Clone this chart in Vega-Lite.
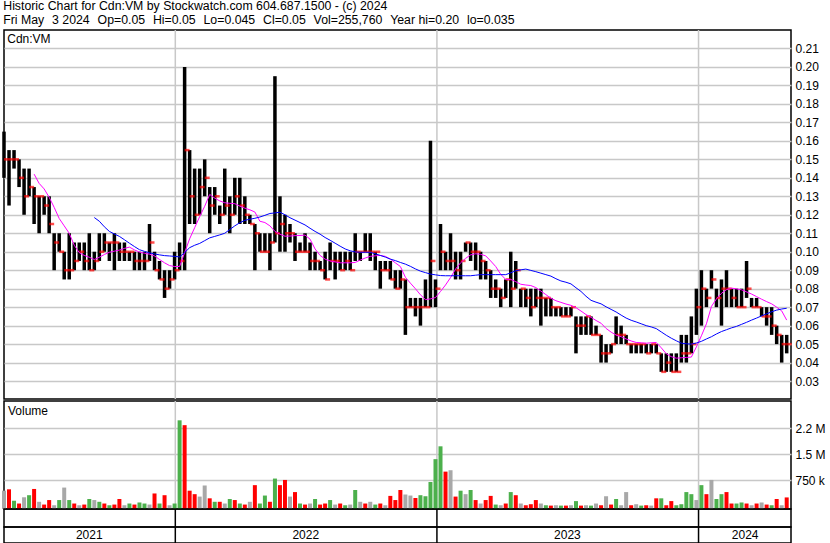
{
"$schema": "https://vega.github.io/schema/vega-lite/v6.json",
"background": "white",
"padding": {"left": 1, "top": 0, "right": 0, "bottom": 0},
"title": {"text": ["Historic Chart for Cdn:VM by Stockwatch.com 604.687.1500 - (c) 2024", "Fri May \u00a0\u200a3 2024 \u00a0\u200aOp=0.05 \u00a0\u200aHi=0.05 \u00a0\u200aLo=0.045 \u00a0\u200aCl=0.05 \u00a0\u200aVol=255,760 \u00a0\u200aYear hi=0.20 \u00a0\u200alo=0.035"], "anchor": "start", "font": "Liberation Sans", "fontSize": 12.3, "fontWeight": "normal", "lineHeight": 14, "offset": 2, "dx": 2, "color": "black"},
"config": {"view": {"stroke": "black", "strokeWidth": 1.5}, "axis": {"labelOverlap": false}},
"datasets": {
"px": [
{"d":"2021-05-07","h":0.165,"l":0.14,"c":0.15,"v":450000,"t":"flat"},
{"d":"2021-05-14","h":0.155,"l":0.125,"c":0.15,"v":490000,"t":"down"},
{"d":"2021-05-21","h":0.155,"l":0.145,"c":0.15,"v":160000,"t":"up"},
{"d":"2021-05-28","h":0.15,"l":0.135,"c":0.14,"v":80000,"t":"down"},
{"d":"2021-06-04","h":0.145,"l":0.12,"c":0.13,"v":260000,"t":"flat"},
{"d":"2021-06-11","h":0.145,"l":0.13,"c":0.135,"v":320000,"t":"up"},
{"d":"2021-06-18","h":0.135,"l":0.115,"c":0.13,"v":500000,"t":"down","m1":0.142},
{"d":"2021-06-25","h":0.13,"l":0.11,"c":0.13,"v":130000,"t":"flat","m1":0.137},
{"d":"2021-07-02","h":0.13,"l":0.12,"c":0.125,"v":50000,"t":"down","m1":0.134},
{"d":"2021-07-09","h":0.13,"l":0.11,"c":0.115,"v":180000,"t":"down","m1":0.1295},
{"d":"2021-07-16","h":0.11,"l":0.09,"c":0.105,"v":30000,"t":"flat","m1":0.124},
{"d":"2021-07-23","h":0.11,"l":0.1,"c":0.1,"v":180000,"t":"up","m1":0.118},
{"d":"2021-07-30","h":0.1,"l":0.085,"c":0.09,"v":540000,"t":"flat","m1":0.114},
{"d":"2021-08-06","h":0.11,"l":0.085,"c":0.09,"v":180000,"t":"up","m1":0.11},
{"d":"2021-08-13","h":0.105,"l":0.09,"c":0.095,"v":80000,"t":"down","m1":0.1035},
{"d":"2021-08-20","h":0.105,"l":0.095,"c":0.1,"v":30000,"t":"flat","m1":0.0995},
{"d":"2021-08-27","h":0.105,"l":0.09,"c":0.095,"v":50000,"t":"down","m1":0.098},
{"d":"2021-09-03","h":0.11,"l":0.09,"c":0.09,"v":210000,"t":"up","m1":0.097},
{"d":"2021-09-10","h":0.1,"l":0.09,"c":0.095,"v":180000,"t":"flat","m1":0.0958,"m2":0.1185},
{"d":"2021-09-17","h":0.11,"l":0.095,"c":0.1,"v":130000,"t":"up","m1":0.097,"m2":0.1165},
{"d":"2021-09-24","h":0.11,"l":0.1,"c":0.105,"v":80000,"t":"down","m1":0.0985,"m2":0.1135},
{"d":"2021-10-01","h":0.105,"l":0.095,"c":0.105,"v":30000,"t":"up","m1":0.0997,"m2":0.111},
{"d":"2021-10-08","h":0.11,"l":0.09,"c":0.105,"v":50000,"t":"down","m1":0.1003,"m2":0.1096},
{"d":"2021-10-15","h":0.105,"l":0.095,"c":0.1,"v":210000,"t":"down","m1":0.1009,"m2":0.1083},
{"d":"2021-10-22","h":0.105,"l":0.095,"c":0.1,"v":30000,"t":"flat","m1":0.1018,"m2":0.1065},
{"d":"2021-10-29","h":0.1,"l":0.095,"c":0.1,"v":80000,"t":"up","m1":0.1025,"m2":0.1046},
{"d":"2021-11-05","h":0.1,"l":0.09,"c":0.095,"v":50000,"t":"down","m1":0.101,"m2":0.1028},
{"d":"2021-11-12","h":0.1,"l":0.09,"c":0.095,"v":110000,"t":"up","m1":0.0998,"m2":0.1011},
{"d":"2021-11-19","h":0.1,"l":0.09,"c":0.095,"v":80000,"t":"up","m1":0.0992,"m2":0.1002},
{"d":"2021-11-26","h":0.115,"l":0.095,"c":0.105,"v":50000,"t":"flat","m1":0.0987,"m2":0.0994},
{"d":"2021-12-03","h":0.1,"l":0.09,"c":0.09,"v":370000,"t":"down","m1":0.0977,"m2":0.0988},
{"d":"2021-12-10","h":0.095,"l":0.085,"c":0.085,"v":80000,"t":"up","m1":0.0958,"m2":0.0983},
{"d":"2021-12-17","h":0.09,"l":0.075,"c":0.08,"v":320000,"t":"down","m1":0.094,"m2":0.0979},
{"d":"2021-12-24","h":0.09,"l":0.08,"c":0.085,"v":30000,"t":"flat","m1":0.0925,"m2":0.0977},
{"d":"2021-12-31","h":0.1,"l":0.085,"c":0.09,"v":80000,"t":"up","m1":0.092,"m2":0.0975},
{"d":"2022-01-07","h":0.105,"l":0.09,"c":0.095,"v":2480000,"t":"up","m1":0.092,"m2":0.0972},
{"d":"2022-01-14","h":0.2,"l":0.09,"c":0.155,"v":2340000,"t":"down","m1":0.0995,"m2":0.0995},
{"d":"2022-01-21","h":0.155,"l":0.115,"c":0.13,"v":450000,"t":"down","m1":0.107,"m2":0.1022},
{"d":"2022-01-28","h":0.145,"l":0.115,"c":0.12,"v":350000,"t":"down","m1":0.113,"m2":0.1035},
{"d":"2022-02-04","h":0.145,"l":0.12,"c":0.135,"v":280000,"t":"flat","m1":0.119,"m2":0.1045},
{"d":"2022-02-11","h":0.15,"l":0.13,"c":0.14,"v":600000,"t":"flat","m1":0.1246,"m2":0.106},
{"d":"2022-02-18","h":0.135,"l":0.11,"c":0.125,"v":230000,"t":"down","m1":0.131,"m2":0.1075},
{"d":"2022-02-25","h":0.135,"l":0.12,"c":0.13,"v":130000,"t":"up","m1":0.129,"m2":0.1083},
{"d":"2022-03-04","h":0.125,"l":0.115,"c":0.12,"v":130000,"t":"down","m1":0.1275,"m2":0.1091},
{"d":"2022-03-11","h":0.145,"l":0.12,"c":0.125,"v":80000,"t":"flat","m1":0.1265,"m2":0.11},
{"d":"2022-03-18","h":0.13,"l":0.11,"c":0.12,"v":210000,"t":"up","m1":0.1262,"m2":0.112},
{"d":"2022-03-25","h":0.14,"l":0.12,"c":0.13,"v":180000,"t":"down","m1":0.126,"m2":0.114},
{"d":"2022-04-01","h":0.14,"l":0.115,"c":0.125,"v":80000,"t":"up","m1":0.1247,"m2":0.1157},
{"d":"2022-04-08","h":0.13,"l":0.115,"c":0.12,"v":50000,"t":"down","m1":0.1236,"m2":0.117},
{"d":"2022-04-15","h":0.12,"l":0.115,"c":0.115,"v":130000,"t":"flat","m1":0.1227,"m2":0.1176},
{"d":"2022-04-22","h":0.115,"l":0.09,"c":0.11,"v":610000,"t":"down","m1":0.1215,"m2":0.1181},
{"d":"2022-04-29","h":0.11,"l":0.1,"c":0.1,"v":80000,"t":"up","m1":0.1165,"m2":0.1188},
{"d":"2022-05-06","h":0.11,"l":0.1,"c":0.1,"v":310000,"t":"up","m1":0.1158,"m2":0.1197},
{"d":"2022-05-13","h":0.11,"l":0.09,"c":0.105,"v":130000,"t":"down","m1":0.114,"m2":0.1207},
{"d":"2022-05-20","h":0.195,"l":0.105,"c":0.11,"v":800000,"t":"up","m1":0.111,"m2":0.121},
{"d":"2022-05-27","h":0.13,"l":0.1,"c":0.115,"v":610000,"t":"down","m1":0.1095,"m2":0.1214},
{"d":"2022-06-03","h":0.12,"l":0.1,"c":0.11,"v":760000,"t":"down","m1":0.1084,"m2":0.12},
{"d":"2022-06-10","h":0.115,"l":0.105,"c":0.11,"v":280000,"t":"flat","m1":0.1085,"m2":0.1184},
{"d":"2022-06-17","h":0.11,"l":0.095,"c":0.1,"v":410000,"t":"down","m1":0.1087,"m2":0.1171},
{"d":"2022-06-24","h":0.105,"l":0.1,"c":0.1,"v":80000,"t":"up","m1":0.1088,"m2":0.1158},
{"d":"2022-07-01","h":0.11,"l":0.1,"c":0.1,"v":50000,"t":"down","m1":0.109,"m2":0.1145},
{"d":"2022-07-08","h":0.105,"l":0.09,"c":0.095,"v":80000,"t":"flat","m1":0.1068,"m2":0.1127},
{"d":"2022-07-15","h":0.1,"l":0.09,"c":0.095,"v":210000,"t":"up","m1":0.1015,"m2":0.111},
{"d":"2022-07-22","h":0.095,"l":0.09,"c":0.09,"v":50000,"t":"down","m1":0.098,"m2":0.1095},
{"d":"2022-07-29","h":0.1,"l":0.085,"c":0.085,"v":80000,"t":"down","m1":0.096,"m2":0.1077},
{"d":"2022-08-05","h":0.105,"l":0.09,"c":0.095,"v":180000,"t":"up","m1":0.095,"m2":0.1062},
{"d":"2022-08-12","h":0.1,"l":0.085,"c":0.095,"v":50000,"t":"flat","m1":0.0945,"m2":0.1046},
{"d":"2022-08-19","h":0.1,"l":0.09,"c":0.09,"v":80000,"t":"down","m1":0.094,"m2":0.103},
{"d":"2022-08-26","h":0.1,"l":0.09,"c":0.095,"v":30000,"t":"up","m1":0.094,"m2":0.1015},
{"d":"2022-09-02","h":0.1,"l":0.09,"c":0.09,"v":50000,"t":"flat","m1":0.094,"m2":0.1005},
{"d":"2022-09-09","h":0.11,"l":0.095,"c":0.1,"v":470000,"t":"up","m1":0.0942,"m2":0.0999},
{"d":"2022-09-16","h":0.1,"l":0.095,"c":0.1,"v":130000,"t":"flat","m1":0.0955,"m2":0.0997},
{"d":"2022-09-23","h":0.11,"l":0.1,"c":0.1,"v":80000,"t":"down","m1":0.0966,"m2":0.0997},
{"d":"2022-09-30","h":0.11,"l":0.095,"c":0.1,"v":130000,"t":"flat","m1":0.0975,"m2":0.0997},
{"d":"2022-10-07","h":0.1,"l":0.09,"c":0.1,"v":50000,"t":"up","m1":0.0978,"m2":0.0989},
{"d":"2022-10-14","h":0.095,"l":0.08,"c":0.09,"v":80000,"t":"down","m1":0.098,"m2":0.098},
{"d":"2022-10-21","h":0.095,"l":0.09,"c":0.09,"v":30000,"t":"flat","m1":0.0975,"m2":0.0971},
{"d":"2022-10-28","h":0.095,"l":0.085,"c":0.085,"v":300000,"t":"down","m1":0.096,"m2":0.096},
{"d":"2022-11-04","h":0.09,"l":0.08,"c":0.08,"v":180000,"t":"down","m1":0.094,"m2":0.0952},
{"d":"2022-11-11","h":0.09,"l":0.08,"c":0.085,"v":470000,"t":"down","m1":0.092,"m2":0.0942},
{"d":"2022-11-18","h":0.085,"l":0.055,"c":0.07,"v":340000,"t":"flat","m1":0.0862,"m2":0.0933},
{"d":"2022-11-25","h":0.075,"l":0.07,"c":0.07,"v":310000,"t":"flat","m1":0.083,"m2":0.0921},
{"d":"2022-12-02","h":0.075,"l":0.065,"c":0.07,"v":240000,"t":"down","m1":0.08,"m2":0.0907},
{"d":"2022-12-09","h":0.075,"l":0.06,"c":0.07,"v":320000,"t":"up","m1":0.0767,"m2":0.0895},
{"d":"2022-12-16","h":0.085,"l":0.07,"c":0.07,"v":290000,"t":"up","m1":0.0741,"m2":0.0887},
{"d":"2022-12-23","h":0.16,"l":0.07,"c":0.095,"v":700000,"t":"up","m1":0.0745,"m2":0.0879},
{"d":"2022-12-30","h":0.085,"l":0.07,"c":0.08,"v":1360000,"t":"up","m1":0.0752,"m2":0.0875},
{"d":"2023-01-06","h":0.115,"l":0.09,"c":0.1,"v":1730000,"t":"up","m1":0.0785,"m2":0.0871},
{"d":"2023-01-13","h":0.1,"l":0.09,"c":0.095,"v":1000000,"t":"down","m1":0.082,"m2":0.087},
{"d":"2023-01-20","h":0.11,"l":0.09,"c":0.095,"v":1040000,"t":"flat","m1":0.086,"m2":0.087},
{"d":"2023-01-27","h":0.1,"l":0.085,"c":0.09,"v":280000,"t":"down","m1":0.0906,"m2":0.087},
{"d":"2023-02-03","h":0.1,"l":0.085,"c":0.095,"v":450000,"t":"up","m1":0.094,"m2":0.087},
{"d":"2023-02-10","h":0.105,"l":0.1,"c":0.105,"v":350000,"t":"flat","m1":0.0964,"m2":0.087},
{"d":"2023-02-17","h":0.105,"l":0.095,"c":0.1,"v":470000,"t":"up","m1":0.0983,"m2":0.087},
{"d":"2023-02-24","h":0.105,"l":0.09,"c":0.1,"v":180000,"t":"down","m1":0.0989,"m2":0.0873},
{"d":"2023-03-03","h":0.1,"l":0.085,"c":0.095,"v":80000,"t":"flat","m1":0.0986,"m2":0.0876},
{"d":"2023-03-10","h":0.095,"l":0.085,"c":0.09,"v":180000,"t":"down","m1":0.0978,"m2":0.0876},
{"d":"2023-03-17","h":0.09,"l":0.075,"c":0.08,"v":300000,"t":"down","m1":0.095,"m2":0.0876},
{"d":"2023-03-24","h":0.085,"l":0.075,"c":0.08,"v":50000,"t":"up","m1":0.092,"m2":0.0876},
{"d":"2023-03-31","h":0.08,"l":0.07,"c":0.075,"v":30000,"t":"flat","m1":0.0878,"m2":0.0876},
{"d":"2023-04-07","h":0.085,"l":0.075,"c":0.085,"v":80000,"t":"down","m1":0.085,"m2":0.0876},
{"d":"2023-04-14","h":0.1,"l":0.07,"c":0.08,"v":410000,"t":"up","m1":0.085,"m2":0.0886},
{"d":"2023-04-21","h":0.095,"l":0.08,"c":0.09,"v":320000,"t":"down","m1":0.0838,"m2":0.0897},
{"d":"2023-04-28","h":0.08,"l":0.07,"c":0.08,"v":80000,"t":"flat","m1":0.0824,"m2":0.0902},
{"d":"2023-05-05","h":0.08,"l":0.07,"c":0.075,"v":30000,"t":"down","m1":0.082,"m2":0.0906},
{"d":"2023-05-12","h":0.08,"l":0.065,"c":0.07,"v":60000,"t":"down","m1":0.0817,"m2":0.0899},
{"d":"2023-05-19","h":0.08,"l":0.07,"c":0.075,"v":180000,"t":"down","m1":0.0806,"m2":0.0892},
{"d":"2023-05-26","h":0.08,"l":0.06,"c":0.075,"v":80000,"t":"flat","m1":0.0787,"m2":0.0884},
{"d":"2023-06-02","h":0.075,"l":0.065,"c":0.075,"v":30000,"t":"up","m1":0.0768,"m2":0.0876},
{"d":"2023-06-09","h":0.075,"l":0.065,"c":0.07,"v":20000,"t":"down","m1":0.0748,"m2":0.0868},
{"d":"2023-06-16","h":0.07,"l":0.065,"c":0.07,"v":30000,"t":"flat","m1":0.0735,"m2":0.0854},
{"d":"2023-06-23","h":0.07,"l":0.065,"c":0.065,"v":20000,"t":"up","m1":0.0726,"m2":0.0842},
{"d":"2023-06-30","h":0.07,"l":0.065,"c":0.065,"v":20000,"t":"down","m1":0.0717,"m2":0.0835},
{"d":"2023-07-07","h":0.07,"l":0.065,"c":0.07,"v":30000,"t":"flat","m1":0.071,"m2":0.0826},
{"d":"2023-07-14","h":0.065,"l":0.045,"c":0.06,"v":150000,"t":"up","m1":0.0697,"m2":0.0805},
{"d":"2023-07-21","h":0.065,"l":0.055,"c":0.06,"v":20000,"t":"down","m1":0.0679,"m2":0.0785},
{"d":"2023-07-28","h":0.065,"l":0.055,"c":0.065,"v":30000,"t":"flat","m1":0.066,"m2":0.0759},
{"d":"2023-08-04","h":0.065,"l":0.055,"c":0.055,"v":20000,"t":"up","m1":0.0645,"m2":0.0737},
{"d":"2023-08-11","h":0.06,"l":0.055,"c":0.055,"v":80000,"t":"flat","m1":0.0628,"m2":0.0727},
{"d":"2023-08-18","h":0.055,"l":0.04,"c":0.045,"v":30000,"t":"down","m1":0.0613,"m2":0.0718},
{"d":"2023-08-25","h":0.05,"l":0.04,"c":0.045,"v":290000,"t":"flat","m1":0.0585,"m2":0.0702},
{"d":"2023-09-01","h":0.05,"l":0.045,"c":0.05,"v":50000,"t":"down","m1":0.0565,"m2":0.0688},
{"d":"2023-09-08","h":0.065,"l":0.05,"c":0.055,"v":210000,"t":"up","m1":0.0549,"m2":0.0674},
{"d":"2023-09-15","h":0.06,"l":0.05,"c":0.055,"v":30000,"t":"flat","m1":0.054,"m2":0.0657},
{"d":"2023-09-22","h":0.055,"l":0.05,"c":0.05,"v":410000,"t":"flat","m1":0.0528,"m2":0.0641},
{"d":"2023-09-29","h":0.05,"l":0.045,"c":0.05,"v":30000,"t":"down","m1":0.0517,"m2":0.0629},
{"d":"2023-10-06","h":0.05,"l":0.045,"c":0.05,"v":60000,"t":"flat","m1":0.0509,"m2":0.062},
{"d":"2023-10-13","h":0.05,"l":0.045,"c":0.05,"v":20000,"t":"up","m1":0.0507,"m2":0.061},
{"d":"2023-10-20","h":0.05,"l":0.045,"c":0.045,"v":30000,"t":"down","m1":0.0505,"m2":0.06},
{"d":"2023-10-27","h":0.05,"l":0.045,"c":0.05,"v":20000,"t":"flat","m1":0.0507,"m2":0.0593},
{"d":"2023-11-03","h":0.05,"l":0.045,"c":0.045,"v":230000,"t":"down","m1":0.0509,"m2":0.0584},
{"d":"2023-11-10","h":0.045,"l":0.035,"c":0.035,"v":230000,"t":"up","m1":0.048,"m2":0.0566},
{"d":"2023-11-17","h":0.045,"l":0.035,"c":0.04,"v":30000,"t":"down","m1":0.0448,"m2":0.0548},
{"d":"2023-11-24","h":0.045,"l":0.035,"c":0.035,"v":150000,"t":"down","m1":0.0432,"m2":0.0532},
{"d":"2023-12-01","h":0.045,"l":0.035,"c":0.035,"v":30000,"t":"up","m1":0.0424,"m2":0.0518},
{"d":"2023-12-08","h":0.055,"l":0.04,"c":0.045,"v":60000,"t":"up","m1":0.0426,"m2":0.0505},
{"d":"2023-12-15","h":0.055,"l":0.04,"c":0.045,"v":410000,"t":"up","m1":0.0428,"m2":0.0502},
{"d":"2023-12-22","h":0.065,"l":0.045,"c":0.05,"v":350000,"t":"up","m1":0.043,"m2":0.05},
{"d":"2023-12-29","h":0.08,"l":0.055,"c":0.07,"v":180000,"t":"flat","m1":0.0485,"m2":0.0506},
{"d":"2024-01-05","h":0.09,"l":0.06,"c":0.08,"v":610000,"t":"up","m1":0.0545,"m2":0.0515},
{"d":"2024-01-12","h":0.08,"l":0.07,"c":0.075,"v":350000,"t":"down","m1":0.061,"m2":0.0528},
{"d":"2024-01-19","h":0.09,"l":0.08,"c":0.085,"v":760000,"t":"flat","m1":0.0704,"m2":0.054},
{"d":"2024-01-26","h":0.08,"l":0.07,"c":0.075,"v":210000,"t":"up","m1":0.0745,"m2":0.0555},
{"d":"2024-02-02","h":0.085,"l":0.06,"c":0.08,"v":350000,"t":"up","m1":0.0775,"m2":0.0568},
{"d":"2024-02-09","h":0.09,"l":0.07,"c":0.08,"v":410000,"t":"down","m1":0.0795,"m2":0.0578},
{"d":"2024-02-16","h":0.08,"l":0.07,"c":0.075,"v":80000,"t":"down","m1":0.0803,"m2":0.0588},
{"d":"2024-02-23","h":0.08,"l":0.07,"c":0.07,"v":80000,"t":"up","m1":0.0799,"m2":0.0596},
{"d":"2024-03-01","h":0.08,"l":0.07,"c":0.07,"v":110000,"t":"up","m1":0.0794,"m2":0.0607},
{"d":"2024-03-08","h":0.095,"l":0.075,"c":0.08,"v":80000,"t":"down","m1":0.0783,"m2":0.0618},
{"d":"2024-03-15","h":0.075,"l":0.07,"c":0.07,"v":30000,"t":"flat","m1":0.0771,"m2":0.063},
{"d":"2024-03-22","h":0.075,"l":0.07,"c":0.07,"v":80000,"t":"down","m1":0.0757,"m2":0.0641},
{"d":"2024-03-29","h":0.07,"l":0.065,"c":0.065,"v":110000,"t":"flat","m1":0.0743,"m2":0.0653},
{"d":"2024-04-05","h":0.07,"l":0.06,"c":0.065,"v":50000,"t":"down","m1":0.073,"m2":0.0664},
{"d":"2024-04-12","h":0.07,"l":0.055,"c":0.06,"v":30000,"t":"up","m1":0.0718,"m2":0.0675},
{"d":"2024-04-19","h":0.06,"l":0.05,"c":0.055,"v":210000,"t":"down","m1":0.07,"m2":0.0684},
{"d":"2024-04-26","h":0.055,"l":0.04,"c":0.05,"v":30000,"t":"flat","m1":0.068,"m2":0.069},
{"d":"2024-05-03","h":0.055,"l":0.045,"c":0.05,"v":255760,"t":"down","m1":0.063,"m2":0.0694}
],
"yrs": [
{"y":"2021","mid":"2021-09-03"},
{"y":"2022","b":"2022-01-01","mid":"2022-07-02"},
{"y":"2023","b":"2023-01-01","mid":"2023-07-02"},
{"y":"2024","b":"2024-01-01","mid":"2024-03-06"}
]
},
"spacing": 2,
"bounds": "flush",
"vconcat": [
{
"width": 787, "height": 369,
"title": {"text": "Cdn:VM", "anchor": "start", "orient": "top", "offset": -17, "dx": 5, "font": "Liberation Sans", "fontSize": 12, "fontWeight": "normal", "color": "black"},
"encoding": {"x": {"field": "d", "type": "temporal", "scale": {"type": "utc", "domain": [{"year": 2021, "month": 5, "date": 7, "utc": true}, {"year": 2024, "month": 5, "date": 9, "utc": true}]}, "axis": null}},
"layer": [
{"data": {"name": "yrs"}, "mark": {"type": "rule", "color": "#c8c8c8", "strokeWidth": 1.5}, "encoding": {"x": {"field": "b", "type": "temporal"}}},
{"data": {"name": "px"}, "mark": {"type": "rule", "color": "black", "strokeWidth": 3.5}, "encoding": {"y": {"field": "h", "type": "quantitative", "scale": {"domain": [0.0203, 0.22], "nice": false, "zero": false}, "axis": {"orient": "right", "values": [0.03, 0.04, 0.05, 0.06, 0.07, 0.08, 0.09, 0.1, 0.11, 0.12, 0.13, 0.14, 0.15, 0.16, 0.17, 0.18, 0.19, 0.2, 0.21], "tickCount": 40, "format": ".2f", "labelOverlap": false, "grid": true, "gridColor": "#c8c8c8", "gridWidth": 1.5, "ticks": false, "domain": false, "labelFont": "Liberation Sans", "labelFontSize": 12, "labelColor": "black", "labelPadding": 4, "title": null}}, "y2": {"field": "l"}}},
{"data": {"name": "px"}, "mark": {"type": "tick", "color": "#ff0000", "orient": "horizontal", "thickness": 2.5, "size": 5, "xOffset": 2.5}, "encoding": {"y": {"field": "c", "type": "quantitative", "scale": {"domain": [0.0203, 0.22], "nice": false, "zero": false}, "axis": {"tickCount": 40, "title": null}}}},
{"data": {"name": "px"}, "mark": {"type": "line", "color": "#ff00ff", "strokeWidth": 1}, "encoding": {"y": {"field": "m1", "type": "quantitative", "scale": {"domain": [0.0203, 0.22], "nice": false, "zero": false}, "axis": {"tickCount": 40, "title": null}}}},
{"data": {"name": "px"}, "mark": {"type": "line", "color": "#0000ff", "strokeWidth": 1}, "encoding": {"y": {"field": "m2", "type": "quantitative", "scale": {"domain": [0.0203, 0.22], "nice": false, "zero": false}, "axis": {"tickCount": 40, "title": null}}}}
]
},
{
"spacing": 0,
"bounds": "flush",
"vconcat": [
{
"width": 787, "height": 108,
"title": {"text": "Volume", "anchor": "start", "orient": "top", "offset": -18, "dx": 6, "font": "Liberation Sans", "fontSize": 12, "fontWeight": "normal", "color": "black"},
"encoding": {"x": {"field": "d", "type": "temporal", "scale": {"type": "utc", "domain": [{"year": 2021, "month": 5, "date": 7, "utc": true}, {"year": 2024, "month": 5, "date": 9, "utc": true}]}, "axis": null}},
"layer": [
{"data": {"name": "yrs"}, "mark": {"type": "rule", "color": "#c8c8c8", "strokeWidth": 1.5}, "encoding": {"x": {"field": "b", "type": "temporal"}}},
{"data": {"name": "px"}, "mark": {"type": "rule", "strokeWidth": 4},
"encoding": {
"y": {"field": "v", "type": "quantitative", "scale": {"domain": [-78000, 3037000], "nice": false, "zero": false}, "axis": {"orient": "right", "values": [750000, 1500000, 2250000], "tickCount": 10, "labelExpr": "datum.value == 750000 ? '750 k' : datum.value == 1500000 ? '1.5 M' : '2.2 M'", "labelOverlap": false, "grid": true, "gridColor": "#c8c8c8", "gridWidth": 1.5, "ticks": false, "domain": false, "labelFont": "Liberation Sans", "labelFontSize": 12, "labelColor": "black", "labelPadding": 4, "title": null}},
"y2": {"datum": -78000},
"color": {"field": "t", "type": "nominal", "scale": {"domain": ["up", "down", "flat"], "range": ["#4cb04c", "#ff0000", "#a8a8a8"]}, "legend": null}
}}
]
},
{
"width": 787, "height": 18,
"data": {"name": "yrs"},
"mark": {"type": "rule", "color": "black", "strokeWidth": 1.5},
"encoding": {"x": {"field": "b", "type": "temporal", "scale": {"type": "utc", "domain": [{"year": 2021, "month": 5, "date": 7, "utc": true}, {"year": 2024, "month": 5, "date": 9, "utc": true}]}, "axis": null}}
},
{
"width": 787, "height": 16,
"data": {"name": "yrs"},
"encoding": {"x": {"field": "b", "type": "temporal", "scale": {"type": "utc", "domain": [{"year": 2021, "month": 5, "date": 7, "utc": true}, {"year": 2024, "month": 5, "date": 9, "utc": true}]}, "axis": null}},
"layer": [
{"mark": {"type": "rule", "color": "black", "strokeWidth": 1.5}},
{"mark": {"type": "text", "font": "Liberation Sans", "fontSize": 12, "color": "black", "baseline": "middle"}, "encoding": {"x": {"field": "mid", "type": "temporal"}, "text": {"field": "y"}}}
]
}
]
}
]
}
